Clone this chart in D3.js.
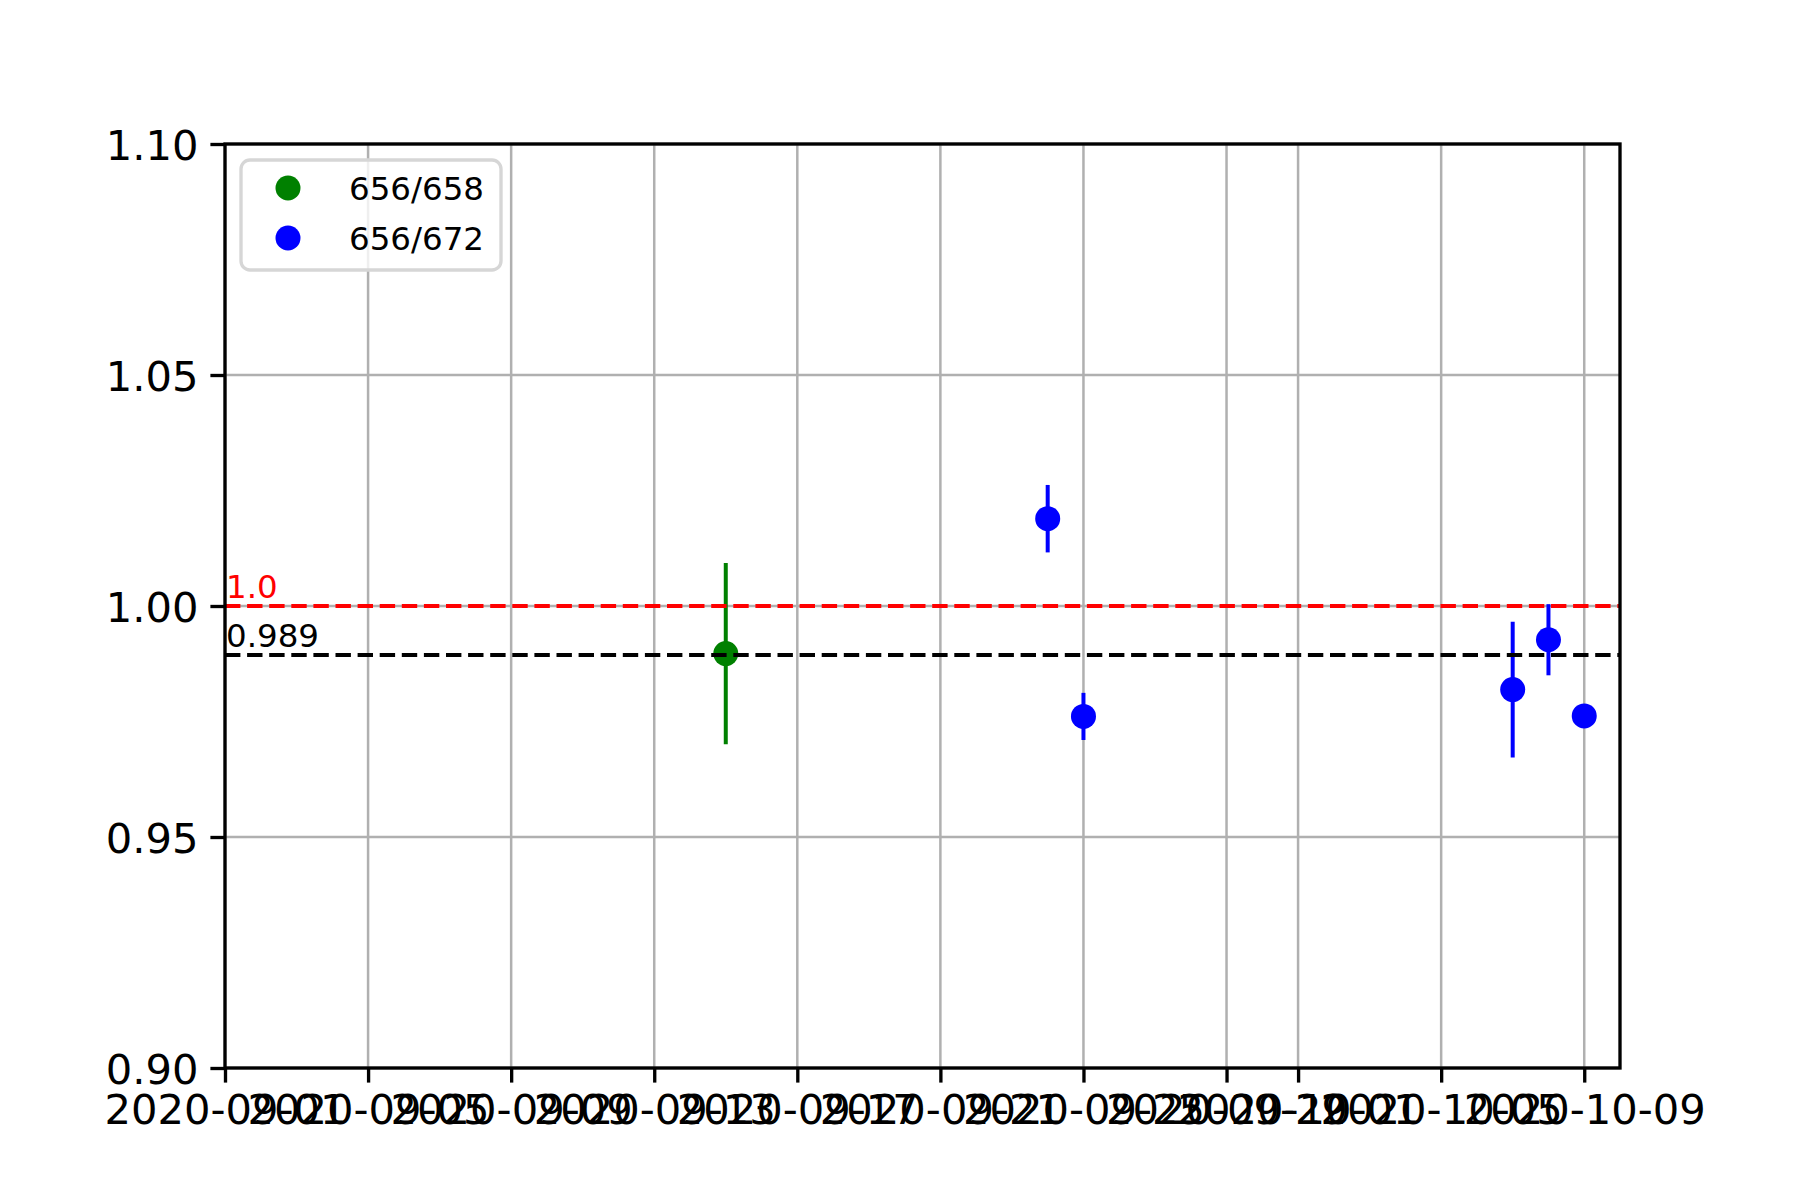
<!DOCTYPE html>
<html>
<head>
<meta charset="utf-8">
<script src="https://cdn.jsdelivr.net/npm/d3@7"></script>
<style>
  html, body { margin: 0; padding: 0; background: #fff; }
  svg { display: block; font-family: "DejaVu Sans", sans-serif; }
</style>
</head>
<body>
<svg id="chart" width="1800" height="1200"></svg>
<script>
// ---- data ----
const seriesNames = ["656/658", "656/672"];
const seriesColors = ["#008000", "#0000ff"];
const dates658 = ["2020-09-15"];
const values658 = [0.9897];
const errors658 = [0.0196];
const dates672 = ["2020-09-24", "2020-09-25", "2020-10-07", "2020-10-08", "2020-10-09"];
const values672 = [1.0189, 0.9761, 0.9819, 0.9927, 0.9762];
const errors672 = [0.0073, 0.0051, 0.0147, 0.0077, 0.0004];
const xTickLabels = ["2020-09-01", "2020-09-05", "2020-09-09", "2020-09-13", "2020-09-17",
  "2020-09-21", "2020-09-25", "2020-09-29", "2020-10-01", "2020-10-05", "2020-10-09"];
const xDomain = ["2020-09-01", "2020-10-10"];
const yTickValues = [0.90, 0.95, 1.00, 1.05, 1.10];
const yDomain = [0.90, 1.10];
const refLines = [
  { value: 1.0, label: "1.0", color: "#ff0000" },
  { value: 0.9894, label: "0.989", color: "#000000" }
];

// ---- layout ----
const W = 1800, H = 1200;
const M = { left: 225, right: 180, top: 144, bottom: 132 };
const parse = d3.utcParse("%Y-%m-%d");
const svg = d3.select("#chart");

const x = d3.scaleUtc().domain(xDomain.map(parse)).range([M.left, W - M.right]);
const y = d3.scaleLinear().domain(yDomain).range([H - M.bottom, M.top]);

const tickFont = 41.67;
const smallFont = 32.5;

// grid
const grid = svg.append("g");
grid.selectAll("line.gx").data(xTickLabels).join("line")
  .attr("x1", d => x(parse(d))).attr("x2", d => x(parse(d)))
  .attr("y1", M.top).attr("y2", H - M.bottom)
  .attr("stroke", "#b0b0b0").attr("stroke-width", 2.5);
grid.selectAll("line.gy").data(yTickValues).join("line")
  .attr("y1", d => y(d)).attr("y2", d => y(d))
  .attr("x1", M.left).attr("x2", W - M.right)
  .attr("stroke", "#b0b0b0").attr("stroke-width", 2.5);

// series
const series = [
  { name: seriesNames[0], color: seriesColors[0], pts: dates658.map((d, i) => ({ d: parse(d), v: values658[i], e: errors658[i] })) },
  { name: seriesNames[1], color: seriesColors[1], pts: dates672.map((d, i) => ({ d: parse(d), v: values672[i], e: errors672[i] })) }
];
series.forEach(s => {
  const g = svg.append("g");
  g.selectAll("line").data(s.pts).join("line")
    .attr("x1", p => x(p.d)).attr("x2", p => x(p.d))
    .attr("y1", p => y(p.v - p.e)).attr("y2", p => y(p.v + p.e))
    .attr("stroke", s.color).attr("stroke-width", 4);
  g.selectAll("circle").data(s.pts).join("circle")
    .attr("cx", p => x(p.d)).attr("cy", p => y(p.v)).attr("r", 12.5)
    .attr("fill", s.color);
});

// reference lines + labels
refLines.forEach(r => {
  svg.append("line")
    .attr("x1", M.left).attr("x2", W - M.right)
    .attr("y1", y(r.value)).attr("y2", y(r.value))
    .attr("stroke", r.color).attr("stroke-width", 4)
    .attr("stroke-dasharray", "15.4,6.7");
  svg.append("text")
    .attr("x", M.left + 1).attr("y", y(r.value) - 7.7)
    .attr("fill", r.color).attr("font-size", smallFont)
    .text(r.label);
});

// axes
const xAxis = d3.axisBottom(x)
  .tickValues(xTickLabels.map(parse))
  .tickFormat(d3.utcFormat("%Y-%m-%d"))
  .tickSize(14.6).tickPadding(12);
const yAxis = d3.axisLeft(y)
  .tickValues(yTickValues)
  .tickFormat(d3.format(".2f"))
  .tickSize(14.6).tickPadding(12);

const gx = svg.append("g").attr("transform", `translate(0,${H - M.bottom})`).call(xAxis);
const gy = svg.append("g").attr("transform", `translate(${M.left},0)`).call(yAxis);
[gx, gy].forEach(g => {
  g.select(".domain").remove();
  g.selectAll(".tick line").attr("stroke", "#000").attr("stroke-width", 3.33);
  g.selectAll(".tick text").attr("font-size", tickFont).attr("fill", "#000")
    .attr("font-family", "DejaVu Sans");
});
gy.selectAll(".tick text").attr("dy", "0.36em");

// frame
svg.append("rect")
  .attr("x", M.left).attr("y", M.top)
  .attr("width", W - M.right - M.left).attr("height", H - M.bottom - M.top)
  .attr("fill", "none").attr("stroke", "#000").attr("stroke-width", 3.33);

// legend
const lg = svg.append("g");
lg.append("rect")
  .attr("x", 241).attr("y", 160).attr("width", 260).attr("height", 110)
  .attr("rx", 9).attr("ry", 9)
  .attr("fill", "#fff").attr("fill-opacity", 0.8)
  .attr("stroke", "#d6d6d6").attr("stroke-width", 3.33);
series.forEach((s, i) => {
  const cy = 188 + i * 50;
  lg.append("circle").attr("cx", 288).attr("cy", cy).attr("r", 12.5).attr("fill", s.color);
  lg.append("text").attr("x", 349).attr("y", cy + 12)
    .attr("font-size", smallFont).attr("fill", "#000").text(s.name);
});
</script>
</body>
</html>
